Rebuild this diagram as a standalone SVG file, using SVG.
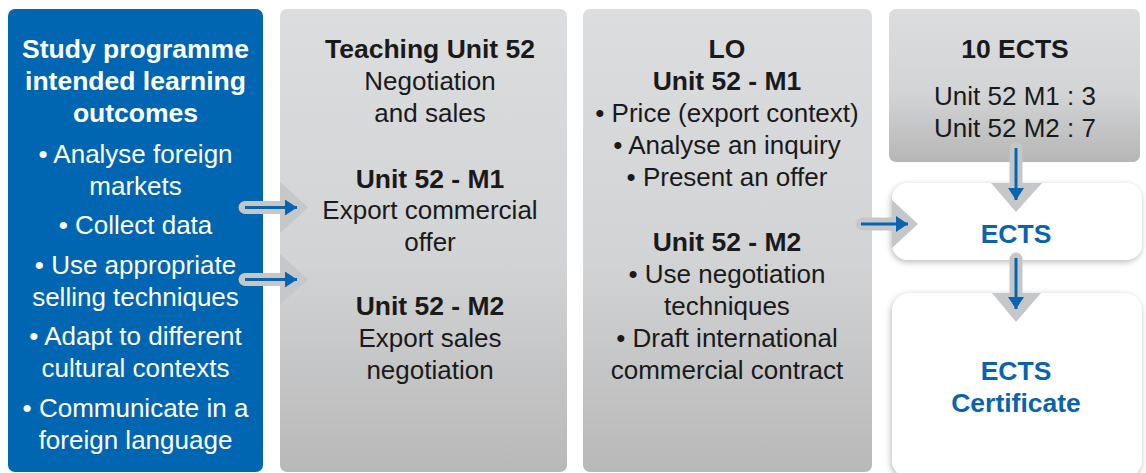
<svg xmlns="http://www.w3.org/2000/svg" width="1146" height="473" viewBox="0 0 1146 473">
  <defs>
    <linearGradient id="greyFill" x1="0" y1="0" x2="0" y2="1">
      <stop offset="0" stop-color="#dcdddf"/>
      <stop offset="0.55" stop-color="#d2d3d4"/>
      <stop offset="1" stop-color="#b8b8b9"/>
    </linearGradient>
    <linearGradient id="greyFillShort" x1="0" y1="0" x2="0" y2="1">
      <stop offset="0" stop-color="#dcdddf"/>
      <stop offset="0.55" stop-color="#d3d4d5"/>
      <stop offset="1" stop-color="#b6b6b7"/>
    </linearGradient>
    <filter id="softShadow" x="-10%" y="-10%" width="120%" height="130%">
      <feDropShadow dx="-1" dy="2" stdDeviation="3" flood-color="#000" flood-opacity="0.28"/>
    </filter>
    <marker id="head" viewBox="0 0 12 16" refX="12" refY="8" markerWidth="12" markerHeight="16" markerUnits="userSpaceOnUse" orient="auto">
      <path d="M0,0 L12,8 L0,16 Z" fill="#0a64ad"/>
    </marker>
    <style>
      .t { font-family: "Liberation Sans", Arial, sans-serif; font-size: 26px; text-anchor: middle; fill: #1a1a1a; }
      .b { font-weight: bold; font-size: 26.5px; }
      .w { fill: #ffffff; }
      .blue { fill: #0b63ad; font-weight: bold; font-size: 26.5px; }
      .tail { stroke: #c5c6c8; stroke-width: 13; stroke-linecap: round; fill: none; }
      .chev { fill: #c6c7c9; }
      .line { stroke: #0a64ad; stroke-width: 3; fill: none; marker-end: url(#head); }
    </style>
  </defs>

  <rect width="1146" height="473" fill="#ffffff"/>

  <!-- study programme outcomes -->
  <g id="outcomes">
    <rect x="8" y="9" width="255" height="463" rx="7" fill="#0066b1"/>
    <text class="t b w" x="135.5" y="58">Study programme</text>
    <text class="t b w" x="135.5" y="90">intended learning</text>
    <text class="t b w" x="135.5" y="122">outcomes</text>
    <text class="t w" x="135.5" y="163">• Analyse foreign</text>
    <text class="t w" x="135.5" y="195">markets</text>
    <text class="t w" x="135.5" y="234">• Collect data</text>
    <text class="t w" x="135.5" y="274">• Use appropriate</text>
    <text class="t w" x="135.5" y="306">selling techniques</text>
    <text class="t w" x="135.5" y="345">• Adapt to different</text>
    <text class="t w" x="135.5" y="377">cultural contexts</text>
    <text class="t w" x="135.5" y="417">• Communicate in a</text>
    <text class="t w" x="135.5" y="449">foreign language</text>
  </g>

  <!-- teaching unit -->
  <g id="teaching-unit">
    <rect x="280" y="9" width="287" height="463" rx="7" fill="url(#greyFill)"/>
    <path class="chev" d="M280,182 L308,207.5 L280,233 Z"/>
    <path class="chev" d="M280,254 L308,279.5 L280,305 Z"/>
    <text class="t b" x="430" y="58">Teaching Unit 52</text>
    <text class="t" x="430" y="90">Negotiation</text>
    <text class="t" x="430" y="122">and sales</text>
    <text class="t b" x="430" y="188">Unit 52 - M1</text>
    <text class="t" x="430" y="219">Export commercial</text>
    <text class="t" x="430" y="251">offer</text>
    <text class="t b" x="430" y="315">Unit 52 - M2</text>
    <text class="t" x="430" y="347">Export sales</text>
    <text class="t" x="430" y="379">negotiation</text>
  </g>

  <!-- learning outcomes -->
  <g id="learning-outcomes">
    <rect x="583" y="9" width="289" height="463" rx="7" fill="url(#greyFill)"/>
    <text class="t b" x="727" y="58">LO</text>
    <text class="t b" x="727" y="90">Unit 52 - M1</text>
    <text class="t" x="727" y="122">• Price (export context)</text>
    <text class="t" x="727" y="154">• Analyse an inquiry</text>
    <text class="t" x="727" y="186">• Present an offer</text>
    <text class="t b" x="727" y="251">Unit 52 - M2</text>
    <text class="t" x="727" y="283">• Use negotiation</text>
    <text class="t" x="727" y="315">techniques</text>
    <text class="t" x="727" y="347">• Draft international</text>
    <text class="t" x="727" y="379">commercial contract</text>
  </g>

  <!-- credit allocation -->
  <g id="credits">
    <rect x="889" y="9" width="251" height="153" rx="7" fill="url(#greyFillShort)"/>
    <text class="t b" x="1015" y="58">10 ECTS</text>
    <text class="t" x="1015" y="105">Unit 52 M1 : 3</text>
    <text class="t" x="1015" y="137">Unit 52 M2 : 7</text>
  </g>

  <!-- ECTS -->
  <g id="ects">
    <rect x="892" y="183" width="250" height="77" rx="16" fill="#ffffff" filter="url(#softShadow)"/>
    <path class="chev" d="M892,200 L918,224 L892,248 Z"/>
    <path class="chev" d="M991,183 L1016,212 L1042,183 Z"/>
    <text class="t blue" x="1016" y="243">ECTS</text>
  </g>

  <!-- ECTS certificate -->
  <g id="certificate">
    <rect x="892" y="293" width="250" height="185" rx="18" fill="#ffffff" filter="url(#softShadow)"/>
    <path class="chev" d="M992,293 L1016,322 L1041,293 Z"/>
    <text class="t blue" x="1016" y="380">ECTS</text>
    <text class="t blue" x="1016" y="412">Certificate</text>
  </g>

  <!-- connectors -->
  <g id="connectors">
    <line class="tail" x1="245" y1="207.5" x2="290" y2="207.5"/>
    <line class="line" x1="245" y1="207.5" x2="297" y2="207.5"/>
    <line class="tail" x1="245" y1="279.5" x2="290" y2="279.5"/>
    <line class="line" x1="245" y1="279.5" x2="297" y2="279.5"/>
    <line class="tail" x1="862" y1="224" x2="900" y2="224"/>
    <line class="line" x1="861" y1="224" x2="908" y2="224"/>
    <line class="tail" x1="1016" y1="149" x2="1016" y2="190"/>
    <line class="line" x1="1016" y1="148" x2="1016" y2="200"/>
    <line class="tail" x1="1016" y1="259" x2="1016" y2="300"/>
    <line class="line" x1="1016" y1="258" x2="1016" y2="309"/>
  </g>
</svg>
